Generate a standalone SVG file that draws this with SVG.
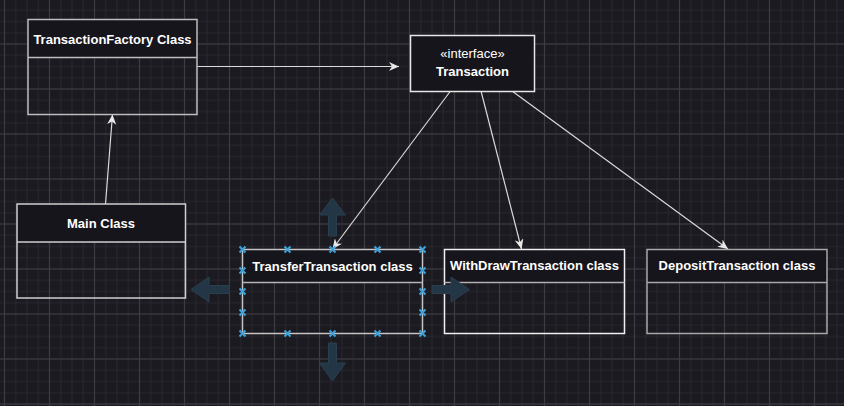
<svg xmlns="http://www.w3.org/2000/svg" width="844" height="406" viewBox="0 0 844 406">
<style>
.t{font-family:"Liberation Sans",Arial,Helvetica,sans-serif;font-size:13px;fill:#ffffff;text-anchor:middle}
.b{font-weight:bold}
.hdr{fill:#17151c}
.conn{fill:none;stroke:#d9d9d9;stroke-width:1.2}
.hov{fill:#233646;stroke:#2a3e4f;stroke-width:1}
.hx{fill:none;stroke:#3da2da;stroke-width:2}
</style>
<defs>
<pattern id="minor" width="11.25" height="11.25" patternUnits="userSpaceOnUse" x="-1.125" y="-6.625">
<path d="M5.625,0 V11.25 M0,5.625 H11.25" stroke="#29272f" stroke-width="1" fill="none"/>
</pattern>
<pattern id="major" width="45" height="45" patternUnits="userSpaceOnUse" x="-18" y="-23.5">
<path d="M22.5,0 V45 M0,22.5 H45" stroke="#3d3c43" stroke-width="1" fill="none"/>
</pattern>
<marker id="arr" markerUnits="userSpaceOnUse" viewBox="0 0 10 9" refX="10" refY="4.5" markerWidth="10" markerHeight="9" orient="auto">
<path d="M0,0 L10,4.5 L0,9 L3,4.5 Z" fill="#e8e8e8"/>
</marker>
<path id="x" d="M-3,-3 L3,3 M3,-3 L-3,3"/>
</defs>
<rect width="844" height="406" fill="#1b1a21"/>
<rect width="844" height="406" fill="url(#minor)"/>
<rect width="844" height="406" fill="url(#major)"/>

<g id="connectors">
<path class="conn" d="M197,66.5 L399,66.5" marker-end="url(#arr)"/>
<path class="conn" d="M105.5,204 L112.5,114.5" marker-end="url(#arr)"/>
<path class="conn" d="M450.5,91 L332.5,249" marker-end="url(#arr)"/>
<path class="conn" d="M481,91 L521.5,249" marker-end="url(#arr)"/>
<path class="conn" d="M512,91 L728,249" marker-end="url(#arr)"/>
</g>

<g id="node-factory">
<rect class="hdr" x="28" y="19.5" width="169" height="38"/>
<rect x="28" y="19.5" width="169" height="95" fill="none" stroke="#bdbdbd" stroke-width="1.5"/>
<line x1="28" y1="57.5" x2="197" y2="57.5" stroke="#bdbdbd" stroke-width="1.5"/>
<text class="t b" x="112.5" y="43.5">TransactionFactory Class</text>
</g>

<g id="node-transaction">
<rect x="410.5" y="35.5" width="124" height="56" fill="#17151c" stroke="#e6e6e6" stroke-width="1.5"/>
<text class="t" x="472.5" y="58">«interface»</text>
<text class="t b" x="472.5" y="75.5">Transaction</text>
</g>

<g id="node-main">
<rect class="hdr" x="17" y="204" width="168.5" height="38"/>
<rect x="17" y="204" width="168.5" height="94" fill="none" stroke="#cfcfcf" stroke-width="1.5"/>
<line x1="17" y1="242" x2="185.5" y2="242" stroke="#cfcfcf" stroke-width="1.5"/>
<text class="t b" x="101" y="227.5">Main Class</text>
</g>

<g id="node-transfer">
<rect class="hdr" x="242.5" y="249.5" width="180" height="33"/>
<rect x="242.5" y="249.5" width="180" height="84" fill="none" stroke="#c4c4c4" stroke-width="1.5"/>
<line x1="242.5" y1="282.5" x2="422.5" y2="282.5" stroke="#b5b5b5" stroke-width="1.5"/>
<text class="t b" x="332.5" y="270.5">TransferTransaction class</text>
</g>

<g id="node-withdraw">
<rect class="hdr" x="444.5" y="249.5" width="180" height="33"/>
<rect x="444.5" y="249.5" width="180" height="84" fill="none" stroke="#f0f0f0" stroke-width="1.5"/>
<line x1="444.5" y1="282.5" x2="624.5" y2="282.5" stroke="#b0b0b0" stroke-width="1.5"/>
<text class="t b" x="534.5" y="270">WithDrawTransaction class</text>
</g>

<g id="node-deposit">
<rect class="hdr" x="647" y="249.5" width="180" height="33"/>
<rect x="647" y="249.5" width="180" height="84" fill="none" stroke="#a8a8a8" stroke-width="1.5"/>
<line x1="647" y1="282.5" x2="827" y2="282.5" stroke="#a8a8a8" stroke-width="1.5"/>
<text class="t b" x="737" y="270">DepositTransaction class</text>
</g>

<g id="selection">
<path class="hov" d="M332.5,198 L345.5,215 L336.5,215 L336.5,236 L328.5,236 L328.5,215 L319.5,215 Z"/>
<path class="hov" d="M332.5,381 L345.5,363 L336.5,363 L336.5,343 L328.5,343 L328.5,363 L319.5,363 Z"/>
<path class="hov" d="M191,289.5 L209,277 L209,285.5 L229.5,285.5 L229.5,293.5 L209,293.5 L209,302 Z"/>
<path class="hov" d="M469.5,289.5 L451,277 L451,285.5 L432,285.5 L432,293.5 L451,293.5 L451,302 Z"/>
<g class="hx">
<use href="#x" x="242.5" y="249.5"/><use href="#x" x="287.5" y="249.5"/><use href="#x" x="332.5" y="249.5"/><use href="#x" x="377.5" y="249.5"/><use href="#x" x="422.5" y="249.5"/>
<use href="#x" x="242.5" y="333.5"/><use href="#x" x="287.5" y="333.5"/><use href="#x" x="332.5" y="333.5"/><use href="#x" x="377.5" y="333.5"/><use href="#x" x="422.5" y="333.5"/>
<use href="#x" x="242.5" y="270.5"/><use href="#x" x="242.5" y="291.5"/><use href="#x" x="242.5" y="312.5"/>
<use href="#x" x="422.5" y="270.5"/><use href="#x" x="422.5" y="291.5"/><use href="#x" x="422.5" y="312.5"/>
</g>
</g>
</svg>
